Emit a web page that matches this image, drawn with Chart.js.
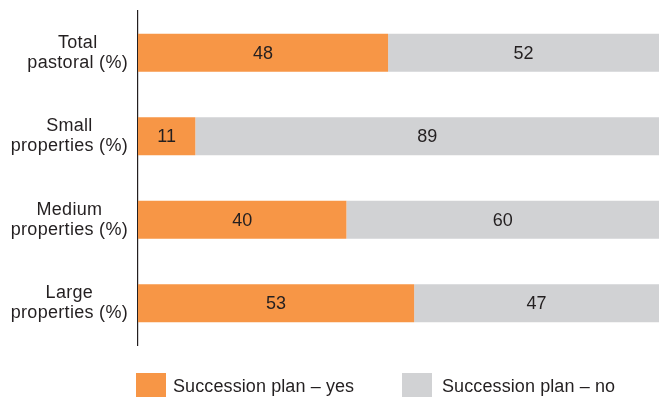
<!DOCTYPE html>
<html><head><meta charset="utf-8">
<script src="https://cdn.jsdelivr.net/npm/chart.js@4"></script>
<style>
html,body{margin:0;padding:0;background:#fff;}
#wrap{position:relative;width:659px;height:399px;overflow:hidden;}
#c{position:absolute;left:0;top:0;}
.lbox{position:absolute;width:30px;height:24px;}
.ltxt{position:absolute;font:18px "Liberation Sans",Arial,sans-serif;color:#231f20;line-height:24px;white-space:nowrap;letter-spacing:0.1px;}
</style></head><body>
<div id="wrap"><canvas id="c" width="659" height="399"></canvas><div id="legend"></div></div>
<script>
const categories = [["Total","pastoral (%)"],["Small","properties (%)"],["Medium","properties (%)"],["Large","properties (%)"]];
const yesValues = [48, 11, 40, 53];
const noValues = [52, 89, 60, 47];
const seriesNames = ["Succession plan – yes", "Succession plan – no"];
const seriesColors = ["#F79646", "#D1D2D4"];

const FONT = '18px "Liberation Sans", Arial, sans-serif';
const TEXT = '#231f20';

const yLabelPlugin = {
  id: 'yLabels',
  afterDraw(chart) {
    const ctx = chart.ctx, scale = chart.scales.y;
    ctx.save();
    ctx.font = FONT; ctx.fillStyle = TEXT; ctx.textAlign = 'center'; ctx.textBaseline = 'middle';
    if ('letterSpacing' in ctx) ctx.letterSpacing = '0.3px';
    categories.forEach((lines, i) => {
      const y = scale.getPixelForTick(i);
      const maxW = Math.max(...lines.map(l => ctx.measureText(l).width));
      const cx = 128 - maxW / 2;
      const lh = 20;
      lines.forEach((l, j) => ctx.fillText(l, cx, y + (j - (lines.length - 1) / 2) * lh));
    });
    ctx.restore();
  }
};
const valuePlugin = {
  id: 'values',
  afterDatasetsDraw(chart) {
    const ctx = chart.ctx;
    ctx.save();
    ctx.font = FONT; ctx.fillStyle = TEXT; ctx.textAlign = 'center'; ctx.textBaseline = 'middle';
    chart.data.datasets.forEach((ds, di) => {
      chart.getDatasetMeta(di).data.forEach((el, i) => {
        ctx.fillText(String(ds.data[i]), (el.x + el.base) / 2, el.y + 1);
      });
    });
    ctx.restore();
  }
};

new Chart(document.getElementById('c'), {
  type: 'bar',
  data: {
    labels: categories,
    datasets: [
      { label: seriesNames[0], data: yesValues, backgroundColor: seriesColors[0], borderWidth: 0, categoryPercentage: 0.455, barPercentage: 1 },
      { label: seriesNames[1], data: noValues, backgroundColor: seriesColors[1], borderWidth: 0, categoryPercentage: 0.455, barPercentage: 1 }
    ]
  },
  options: {
    indexAxis: 'y',
    responsive: false,
    animation: false,
    layout: { padding: { top: 11, bottom: 54, left: 0, right: 0 } },
    plugins: { legend: { display: false }, tooltip: { enabled: false } },
    scales: {
      x: { stacked: true, min: 0, max: 100, display: false },
      y: {
        stacked: true,
        grid: { display: false },
        border: { display: true, color: '#231f20', width: 1.2 },
        ticks: { display: false },
        afterFit(scale) { scale.width = 138; }
      }
    }
  },
  plugins: [yLabelPlugin, valuePlugin]
});

const legend = document.getElementById('legend');
const legPos = [[136, 173], [402, 442]];
seriesNames.forEach((name, i) => {
  const b = document.createElement('div');
  b.className = 'lbox';
  b.style.left = legPos[i][0] + 'px'; b.style.top = '373px'; b.style.background = seriesColors[i];
  legend.appendChild(b);
  const t = document.createElement('div');
  t.className = 'ltxt';
  t.style.left = legPos[i][1] + 'px'; t.style.top = '374px';
  t.textContent = name;
  legend.appendChild(t);
});
</script>
</body></html>
